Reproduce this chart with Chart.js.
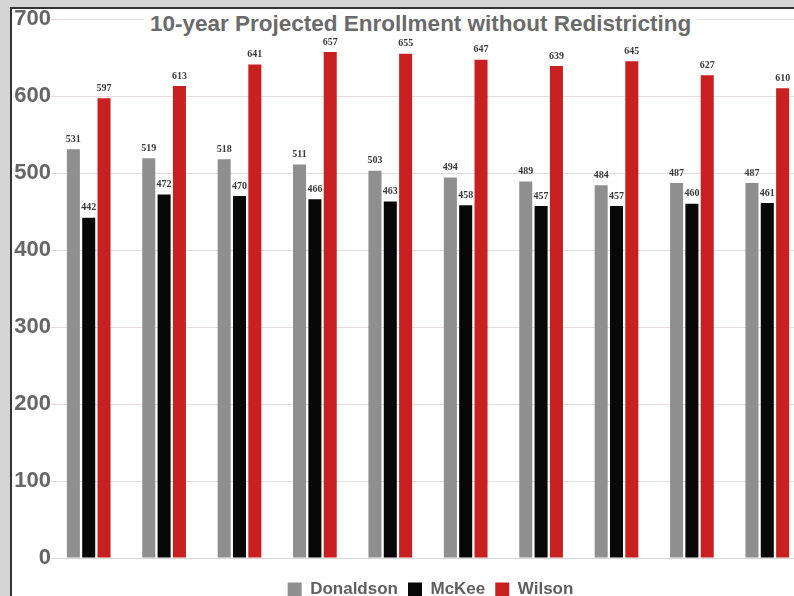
<!DOCTYPE html>
<html>
<head>
<meta charset="utf-8">
<script src="https://cdn.jsdelivr.net/npm/chart.js@4/dist/chart.umd.min.js"></script>
<style>
    html, body { margin: 0; padding: 0; }
    body {
        width: 794px; height: 596px; overflow: hidden;
        background: #d5d5d5; position: relative;
        font-family: "Liberation Sans", Arial, sans-serif;
    }
    .frame {
        position: absolute; left: 10px; top: 7px;
        width: 820px; height: 620px;
        border-left: 2px solid #333; border-top: 2px solid #333;
        background: #fff;
    }
    .chart-box {
        position: absolute; left: 12px; top: 8px;
        width: 793px; height: 600px;
    }
    .title {
        position: absolute; left: 144px; top: 11px;
        padding: 0 6px; background: #fff;
        font-weight: bold; font-size: 22.5px; color: #6a6a6a;
        white-space: nowrap; line-height: 26px;
    }
</style>
</head>
<body>
<div class="frame"></div>
<div class="chart-box"><canvas id="enrollChart" width="793" height="600"></canvas></div>
<div class="title">10-year Projected Enrollment without Redistricting</div>

<script>
// Dados
const years = ['2018-19', '2019-20', '2020-21', '2021-22', '2022-23',
               '2023-24', '2024-25', '2025-26', '2026-27', '2027-28'];
const donaldson = [531, 519, 518, 511, 503, 494, 489, 484, 487, 487];
const mckee = [442, 472, 470, 466, 463, 458, 457, 457, 460, 461];
const wilson = [597, 613, 641, 657, 655, 647, 639, 645, 627, 610];
const yTicks = [0, 100, 200, 300, 400, 500, 600, 700];

// Rótulos de valor acima das barras
const valueLabels = {
    id: 'valueLabels',
    afterDatasetsDraw(chart) {
        const ctx = chart.ctx;
        ctx.save();
        ctx.font = 'bold 10px "Liberation Serif", serif';
        ctx.fillStyle = '#3a3a3a';
        ctx.textAlign = 'center';
        ctx.textBaseline = 'bottom';
        chart.data.datasets.forEach((ds, i) => {
            chart.getDatasetMeta(i).data.forEach((bar, j) => {
                ctx.fillText(ds.data[j], bar.x, bar.y - 5);
            });
        });
        ctx.restore();
    }
};

// Legenda deslocada para a direita, como no original
const legendShift = {
    id: 'legendShift',
    afterLayout(chart) {
        chart.legend.left += 22;
        chart.legend.right += 22;
    }
};

const ctx = document.getElementById('enrollChart').getContext('2d');
new Chart(ctx, {
    type: 'bar',
    data: {
        labels: years,
        datasets: [{
            label: 'Donaldson',
            data: donaldson,
            backgroundColor: '#8f8f8f'
        }, {
            label: 'McKee',
            data: mckee,
            backgroundColor: '#080808'
        }, {
            label: 'Wilson',
            data: wilson,
            backgroundColor: '#c82020'
        }]
    },
    options: {
        responsive: false,
        animation: false,
        categoryPercentage: 0.61,
        barPercentage: 0.85,
        layout: { padding: { top: 11, left: 0, right: 0, bottom: 0 } },
        plugins: {
            title: { display: false },
            tooltip: { enabled: false },
            legend: {
                position: 'bottom',
                labels: {
                    color: '#5f5f5f',
                    font: { family: '"Liberation Sans", Arial, sans-serif', size: 17, weight: 'bold' },
                    boxWidth: 14,
                    boxHeight: 14,
                    padding: 10
                }
            }
        },
        scales: {
            x: {
                grid: { display: false },
                border: { display: true, color: '#d6d6d6' },
                ticks: {
                    color: '#6a6a6a',
                    padding: 4,
                    maxRotation: 0,
                    font: { family: '"Liberation Sans", Arial, sans-serif', size: 13, weight: 'bold' }
                },
                afterFit(scale) { scale.height = 13; }
            },
            y: {
                min: 0,
                max: 700,
                afterBuildTicks(scale) {
                    scale.ticks = yTicks.map(v => ({ value: v }));
                },
                grid: { color: '#e6dcdc', drawTicks: false },
                border: { display: false },
                ticks: {
                    color: '#666666',
                    padding: 0,
                    font: { family: '"Liberation Sans", Arial, sans-serif', size: 22, weight: 'bold', lineHeight: 1 }
                },
                afterFit(scale) { scale.width = 39; }
            }
        }
    },
    plugins: [valueLabels, legendShift]
});
</script>
</body>
</html>
